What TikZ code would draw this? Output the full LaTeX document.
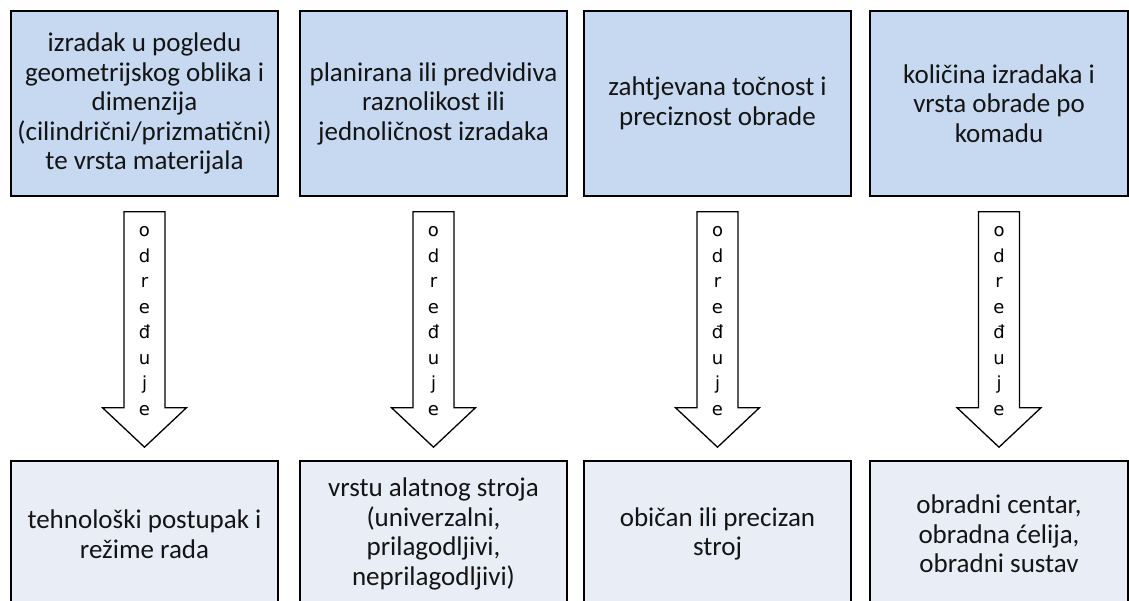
\documentclass[tikz,border=0pt]{standalone}
\usepackage{fontspec}
\setmainfont{Carlito}
\newfontfamily\arrowfont{DejaVu Sans}
\usetikzlibrary{calc}
\definecolor{topfill}{HTML}{C6D9F1}
\definecolor{botfill}{HTML}{E9EEF6}
\definecolor{txt}{HTML}{141414}

\begin{document}
\begin{tikzpicture}[
		x=1pt,y=-1pt,
		box/.style={draw=black,line width=1.6pt,minimum width=267pt,inner sep=0pt,
			align=center,text=txt,font=\fontsize{27}{29.5}\selectfont},
		cause/.style={box,fill=topfill,minimum height=185pt},
		result/.style={box,fill=botfill,minimum height=146pt},
		blockarrow/.style={draw=black,line width=1.3pt,fill=white,line join=miter},
		arrowtext/.style={align=center,inner sep=0pt,text=black,
			font=\arrowfont\fontsize{18}{25.5}\selectfont}
		]
		\useasboundingbox (0,0) rectangle (1129,601);
		% gornji red
		\node[cause] (top1) at (144.5,103.5) {izradak u pogledu\\geometrijskog oblika i\\dimenzija\\(cilindrični/prizmatični)\\te vrsta materijala};
		\node[cause] (top2) at (433.5,103.5) {planirana ili predvidiva\\raznolikost ili\\jednoličnost izradaka};
		\node[cause] (top3) at (717.5,103.5) {zahtjevana točnost i\\preciznost obrade};
		\node[cause,minimum width=258pt] (top4) at (999,103.5) {količina izradaka i\\vrsta obrade po\\komadu};
		% donji red
		\node[result] (res1) at (144.5,534) {tehnološki postupak i\\režime rada};
		\node[result] (res2) at (433.5,534) {vrstu alatnog stroja\\(univerzalni,\\prilagodljivi,\\neprilagodljivi)};
		\node[result] (res3) at (717.5,534) {običan ili precizan\\stroj};
		\node[result,minimum width=258pt] (res4) at (999,534) {obradni centar,\\obradna ćelija,\\obradni sustav};
		% strelice
		\foreach \i in {1,...,4}{
			\coordinate (a\i) at ($(top\i.south)+(0,15)$);
			\coordinate (b\i) at ($(res\i.north)+(0,-13)$);
			\draw[blockarrow] ($(a\i)+(-20.5,0)$) -- ($(a\i)+(20.5,0)$)
				-- ($(b\i)+(20.5,-39.5)$) -- ($(b\i)+(42,-39.5)$) -- (b\i)
				-- ($(b\i)+(-42,-39.5)$) -- ($(b\i)+(-20.5,-39.5)$) -- cycle;
			\node[arrowtext] (word\i) at ($(a\i)!0.5!(b\i)+(0,-8.5)$) {o\\d\\r\\e\\đ\\u\\j\\e};
		}
\end{tikzpicture}
\end{document}
